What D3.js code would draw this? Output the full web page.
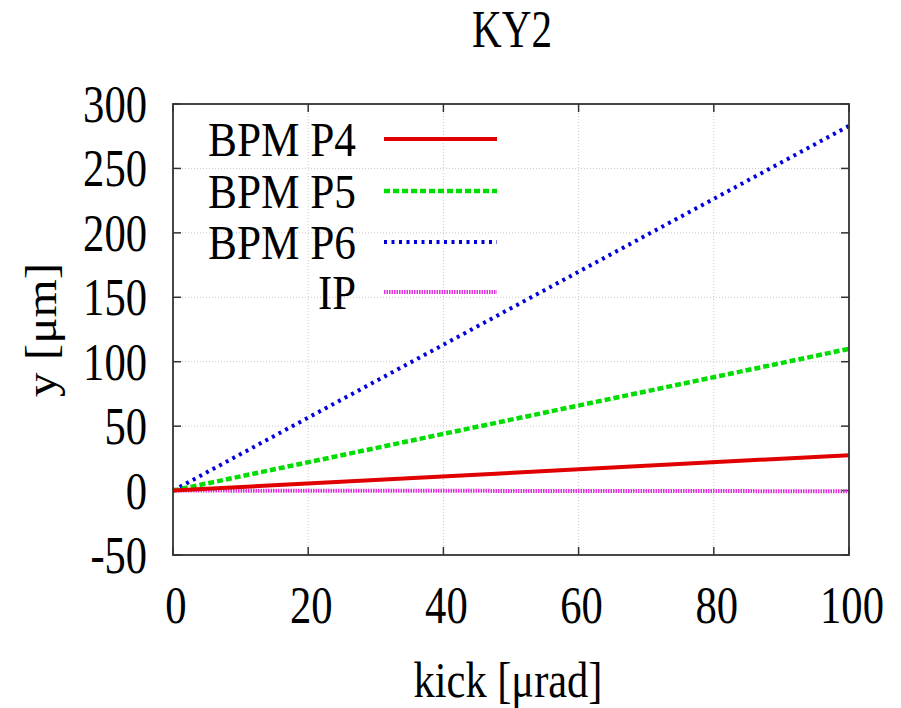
<!DOCTYPE html>
<html><head><meta charset="utf-8">
<script src="https://cdn.jsdelivr.net/npm/d3@7"></script>
</head><body style="margin:0">
<svg id="c" width="901" height="708" style="display:block;background:#fff"></svg>
<script>
const title = "KY2";
const xLabel = "kick [μrad]";
const yLabel = "y [μm]";
const kick = [0, 100];
const seriesNames = ["BPM P4", "BPM P5", "BPM P6", "IP"];
const p4 = [0, 27.5];
const p5 = [0, 110];
const p6 = [0, 283];
const ip = [0, -0.5];
const xTicks = [0, 20, 40, 60, 80, 100];
const yTicks = [-50, 0, 50, 100, 150, 200, 250, 300];
const colors = ["#e00000", "#00dd00", "#0000dd", "#dd33dd"];
const dashes = [null, "6,3", "3,4.5", "1.5,1"];
const widths = [4, 4.5, 4, 4];

const FONT = "'Liberation Serif', 'Noto Serif', 'DejaVu Serif'";
const svg = d3.select("#c");
const L = 173, R = 849, T = 104, B = 555;
const x = d3.scaleLinear().domain([0, 100]).range([L, R]);
const y = d3.scaleLinear().domain([-50, 300]).range([B, T]);
const FS = 52;
function txt(px, py, s, size, anchor, target) {
  const t = svg.append("text").attr("x", px).attr("y", py).attr("font-family", FONT).attr("font-size", size)
    .attr("text-anchor", anchor).attr("fill", "#000").text(s);
  t.attr("textLength", target).attr("lengthAdjust", "spacingAndGlyphs");
  return t;
}
function numW(s) { let w = 0; for (const c of s) w += (c === "-" ? 14 : 21.3); return w; }

// grid
const g = svg.append("g");
xTicks.slice(1, -1).forEach(t => g.append("line").attr("x1", x(t)).attr("x2", x(t)).attr("y1", T).attr("y2", B)
  .attr("stroke", "#c8c8c8").attr("stroke-width", 1).attr("stroke-dasharray", "1,2"));
yTicks.slice(1, -1).forEach(t => g.append("line").attr("x1", L).attr("x2", R).attr("y1", y(t)).attr("y2", y(t))
  .attr("stroke", "#c8c8c8").attr("stroke-width", 1).attr("stroke-dasharray", "1,2"));

// ticks (mirrored, inward)
const tl = 8;
xTicks.forEach(t => {
  g.append("line").attr("x1", x(t)).attr("x2", x(t)).attr("y1", B).attr("y2", B - tl).attr("stroke", "#333").attr("stroke-width", 1.5);
  g.append("line").attr("x1", x(t)).attr("x2", x(t)).attr("y1", T).attr("y2", T + tl).attr("stroke", "#333").attr("stroke-width", 1.5);
  txt(x(t) + 3, 623, String(t), FS, "middle", numW(String(t)));
});
yTicks.forEach(t => {
  g.append("line").attr("x1", L).attr("x2", L + tl).attr("y1", y(t)).attr("y2", y(t)).attr("stroke", "#333").attr("stroke-width", 1.5);
  g.append("line").attr("x1", R).attr("x2", R - tl).attr("y1", y(t)).attr("y2", y(t)).attr("stroke", "#333").attr("stroke-width", 1.5);
  txt(147, y(t) + 18, String(t), FS, "end", numW(String(t)));
});

// series
const all = [p4, p5, p6, ip];
const line = d3.line().x((d, i) => x(kick[i])).y(d => y(d));
[3, 2, 1, 0].forEach(k => {
  svg.append("path").datum(all[k]).attr("d", line).attr("fill", "none").attr("stroke", colors[k])
    .attr("stroke-width", widths[k]).attr("stroke-dasharray", dashes[k]);
});

// frame
svg.append("rect").attr("x", L).attr("y", T).attr("width", R - L).attr("height", B - T)
  .attr("fill", "none").attr("stroke", "#333").attr("stroke-width", 1.8);

// legend
const ly = [139, 191, 242, 292];
seriesNames.forEach((n, k) => {
  txt(356, ly[k] + 17, n, 49, "end", n.length > 2 ? 148 : 38);
  svg.append("line").attr("x1", 384).attr("x2", 497).attr("y1", ly[k]).attr("y2", ly[k])
    .attr("stroke", colors[k]).attr("stroke-width", widths[k]).attr("stroke-dasharray", dashes[k]);
});

// titles
txt(512, 47, title, FS, "middle", 80);
txt(508, 697, xLabel, 50, "middle", 189);
svg.append("text").attr("transform", "translate(56,330) rotate(-90)").attr("font-family", FONT)
  .attr("font-size", 44).attr("text-anchor", "middle").attr("fill", "#000")
  .attr("textLength", 134).attr("lengthAdjust", "spacingAndGlyphs").text(yLabel);
</script></body></html>
